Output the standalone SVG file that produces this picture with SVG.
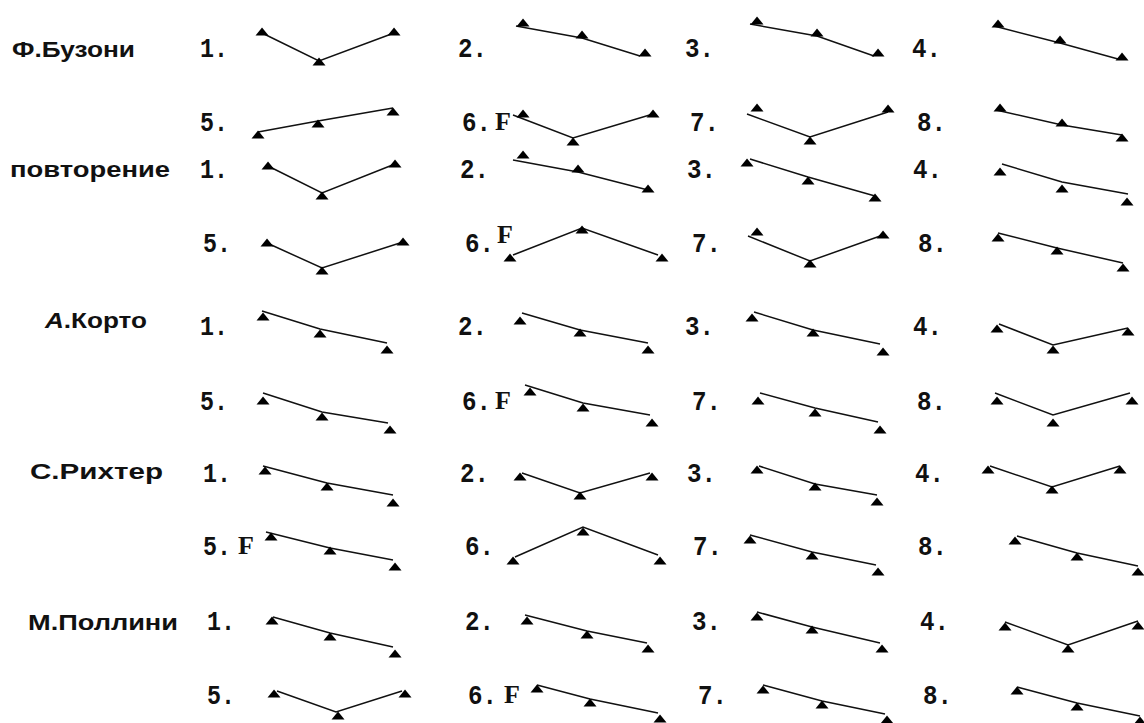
<svg xmlns="http://www.w3.org/2000/svg" xmlns:xlink="http://www.w3.org/1999/xlink" width="1144" height="723" viewBox="0 0 1144 723">
<style>
.name{font-family:"Liberation Sans",Arial,sans-serif;font-weight:bold;font-size:22px;fill:#111}
.num{font-family:"Liberation Mono","Courier New",monospace;font-weight:bold;font-size:28px;fill:#111}
.f{font-family:"Liberation Serif","Times New Roman",serif;font-weight:bold;font-size:26px;fill:#111}
.c{fill:none;stroke:#111;stroke-width:1.5}
.tri{fill:#000}
</style>
<defs>
<path id="t" class="tri" d="M-6.5,3.5 L6.5,3.5 L0,-4.5 Z"/>
</defs>
<rect width="1144" height="723" fill="#fff"/>
<g id="names">
<text class="name" x="12" y="57" textLength="123" lengthAdjust="spacingAndGlyphs">Ф.Бузони</text>
<text class="name" x="10" y="177" textLength="160" lengthAdjust="spacingAndGlyphs" font-size="25">повторение</text>
<text class="name" x="45" y="328" textLength="102" lengthAdjust="spacingAndGlyphs"><tspan font-style="italic">А</tspan>.Корто</text>
<text class="name" x="30" y="479" textLength="133" lengthAdjust="spacingAndGlyphs">С.Рихтер</text>
<text class="name" x="28" y="630" textLength="150" lengthAdjust="spacingAndGlyphs">М.Поллини</text>
</g>
<g id="labels">
<text class="num" x="200" y="57" textLength="28" lengthAdjust="spacingAndGlyphs">1.</text><text class="num" x="458" y="57" textLength="29" lengthAdjust="spacingAndGlyphs">2.</text><text class="num" x="685" y="57" textLength="29" lengthAdjust="spacingAndGlyphs">3.</text><text class="num" x="912" y="57" textLength="29" lengthAdjust="spacingAndGlyphs">4.</text>
<text class="num" x="200" y="131" textLength="28" lengthAdjust="spacingAndGlyphs">5.</text><text class="num" x="462" y="131" textLength="29" lengthAdjust="spacingAndGlyphs">6.</text><text class="f" x="495" y="130">F</text><text class="num" x="690" y="131" textLength="29" lengthAdjust="spacingAndGlyphs">7.</text><text class="num" x="917" y="131" textLength="29" lengthAdjust="spacingAndGlyphs">8.</text>
<text class="num" x="200" y="178" textLength="28" lengthAdjust="spacingAndGlyphs">1.</text><text class="num" x="460" y="178" textLength="29" lengthAdjust="spacingAndGlyphs">2.</text><text class="num" x="687" y="178" textLength="29" lengthAdjust="spacingAndGlyphs">3.</text><text class="num" x="913" y="178" textLength="29" lengthAdjust="spacingAndGlyphs">4.</text>
<text class="num" x="203" y="252" textLength="28" lengthAdjust="spacingAndGlyphs">5.</text><text class="num" x="465" y="252" textLength="29" lengthAdjust="spacingAndGlyphs">6.</text><text class="f" x="497" y="243">F</text><text class="num" x="692" y="252" textLength="29" lengthAdjust="spacingAndGlyphs">7.</text><text class="num" x="918" y="252" textLength="29" lengthAdjust="spacingAndGlyphs">8.</text>
<text class="num" x="200" y="335" textLength="28" lengthAdjust="spacingAndGlyphs">1.</text><text class="num" x="458" y="335" textLength="29" lengthAdjust="spacingAndGlyphs">2.</text><text class="num" x="685" y="335" textLength="29" lengthAdjust="spacingAndGlyphs">3.</text><text class="num" x="913" y="335" textLength="29" lengthAdjust="spacingAndGlyphs">4.</text>
<text class="num" x="200" y="410" textLength="28" lengthAdjust="spacingAndGlyphs">5.</text><text class="num" x="462" y="410" textLength="29" lengthAdjust="spacingAndGlyphs">6.</text><text class="f" x="495" y="409">F</text><text class="num" x="692" y="410" textLength="29" lengthAdjust="spacingAndGlyphs">7.</text><text class="num" x="917" y="410" textLength="29" lengthAdjust="spacingAndGlyphs">8.</text>
<text class="num" x="203" y="482" textLength="28" lengthAdjust="spacingAndGlyphs">1.</text><text class="num" x="460" y="482" textLength="29" lengthAdjust="spacingAndGlyphs">2.</text><text class="num" x="687" y="482" textLength="29" lengthAdjust="spacingAndGlyphs">3.</text><text class="num" x="915" y="482" textLength="29" lengthAdjust="spacingAndGlyphs">4.</text>
<text class="num" x="203" y="555" textLength="28" lengthAdjust="spacingAndGlyphs">5.</text><text class="f" x="238" y="554">F</text><text class="num" x="465" y="555" textLength="29" lengthAdjust="spacingAndGlyphs">6.</text><text class="num" x="693" y="555" textLength="29" lengthAdjust="spacingAndGlyphs">7.</text><text class="num" x="918" y="555" textLength="29" lengthAdjust="spacingAndGlyphs">8.</text>
<text class="num" x="207" y="630" textLength="28" lengthAdjust="spacingAndGlyphs">1.</text><text class="num" x="465" y="630" textLength="29" lengthAdjust="spacingAndGlyphs">2.</text><text class="num" x="692" y="630" textLength="29" lengthAdjust="spacingAndGlyphs">3.</text><text class="num" x="920" y="630" textLength="29" lengthAdjust="spacingAndGlyphs">4.</text>
<text class="num" x="207" y="704" textLength="28" lengthAdjust="spacingAndGlyphs">5.</text><text class="num" x="468" y="704" textLength="29" lengthAdjust="spacingAndGlyphs">6.</text><text class="f" x="504" y="703">F</text><text class="num" x="698" y="704" textLength="29" lengthAdjust="spacingAndGlyphs">7.</text><text class="num" x="923" y="704" textLength="29" lengthAdjust="spacingAndGlyphs">8.</text>
</g>
<g id="connectors">
<polyline class="c" points="262,33 319,61 394,33"/>
<polyline class="c" points="516,26 582,38 640,56"/>
<polyline class="c" points="750,24 817,36 874,56"/>
<polyline class="c" points="994,26 1060,43 1118,59"/>
<polyline class="c" points="258,132 318,121 393,108"/>
<polyline class="c" points="513,115 573,138 653,114"/>
<polyline class="c" points="747,114 810,137 888,112"/>
<polyline class="c" points="996,110 1062,125 1122,135"/>
<polyline class="c" points="268,166 322,193 395,164"/>
<polyline class="c" points="513,160 578,172 648,190"/>
<polyline class="c" points="750,159 808,177 875,196"/>
<polyline class="c" points="1002,164 1062,182 1128,194"/>
<polyline class="c" points="267,243 322,268 403,242"/>
<polyline class="c" points="513,255 582,228 658,255"/>
<polyline class="c" points="748,236 810,261 883,235"/>
<polyline class="c" points="998,233 1057,248 1123,263"/>
<polyline class="c" points="262,311 320,329 387,343"/>
<polyline class="c" points="522,313 580,330 648,343"/>
<polyline class="c" points="754,312 813,330 880,344"/>
<polyline class="c" points="999,324 1053,345 1128,328"/>
<polyline class="c" points="263,393 322,412 388,423"/>
<polyline class="c" points="525,385 583,403 650,415"/>
<polyline class="c" points="760,393 815,408 878,422"/>
<polyline class="c" points="995,393 1053,415 1130,393"/>
<polyline class="c" points="263,466 327,483 393,495"/>
<polyline class="c" points="522,473 580,493 650,473"/>
<polyline class="c" points="759,466 815,484 877,495"/>
<polyline class="c" points="990,466 1052,487 1120,466"/>
<polyline class="c" points="266,532 330,548 393,560"/>
<polyline class="c" points="515,557 583,527 658,555"/>
<polyline class="c" points="750,535 812,552 876,565"/>
<polyline class="c" points="1017,536 1077,553 1138,566"/>
<polyline class="c" points="273,617 330,633 393,647"/>
<polyline class="c" points="525,615 587,631 647,643"/>
<polyline class="c" points="757,612 812,627 880,643"/>
<polyline class="c" points="1005,622 1068,645 1138,621"/>
<polyline class="c" points="277,691 336,712 402,691"/>
<polyline class="c" points="537,685 590,699 658,713"/>
<polyline class="c" points="763,685 822,701 885,714"/>
<polyline class="c" points="1017,687 1077,703 1140,716"/>
</g>
<g id="r1">
<use href="#t" x="262" y="32"/><use href="#t" x="319" y="62"/><use href="#t" x="394" y="32"/>
<use href="#t" x="523" y="23"/><use href="#t" x="582" y="35"/><use href="#t" x="645" y="53"/>
<use href="#t" x="757" y="21"/><use href="#t" x="817" y="33"/><use href="#t" x="878" y="53"/>
<use href="#t" x="998" y="24"/><use href="#t" x="1060" y="40"/><use href="#t" x="1122" y="57"/>
</g>
<g id="r2">
<use href="#t" x="258" y="135"/><use href="#t" x="318" y="124"/><use href="#t" x="393" y="112"/>
<use href="#t" x="523" y="114"/><use href="#t" x="573" y="142"/><use href="#t" x="653" y="114"/>
<use href="#t" x="757" y="108"/><use href="#t" x="810" y="141"/><use href="#t" x="888" y="109"/>
<use href="#t" x="1000" y="108"/><use href="#t" x="1062" y="123"/><use href="#t" x="1122" y="138"/>
</g>
<g id="r3">
<use href="#t" x="268" y="166"/><use href="#t" x="322" y="196"/><use href="#t" x="395" y="164"/>
<use href="#t" x="523" y="155"/><use href="#t" x="578" y="169"/><use href="#t" x="648" y="189"/>
<use href="#t" x="747" y="163"/><use href="#t" x="808" y="181"/><use href="#t" x="875" y="198"/>
<use href="#t" x="1000" y="172"/><use href="#t" x="1062" y="189"/><use href="#t" x="1127" y="202"/>
</g>
<g id="r4">
<use href="#t" x="267" y="243"/><use href="#t" x="322" y="271"/><use href="#t" x="403" y="242"/>
<use href="#t" x="510" y="258"/><use href="#t" x="582" y="230"/><use href="#t" x="662" y="258"/>
<use href="#t" x="757" y="232"/><use href="#t" x="810" y="264"/><use href="#t" x="883" y="235"/>
<use href="#t" x="998" y="238"/><use href="#t" x="1057" y="251"/><use href="#t" x="1123" y="268"/>
</g>
<g id="r5">
<use href="#t" x="263" y="317"/><use href="#t" x="320" y="334"/><use href="#t" x="387" y="350"/>
<use href="#t" x="520" y="321"/><use href="#t" x="580" y="333"/><use href="#t" x="648" y="350"/>
<use href="#t" x="752" y="318"/><use href="#t" x="813" y="333"/><use href="#t" x="883" y="352"/>
<use href="#t" x="997" y="329"/><use href="#t" x="1053" y="350"/><use href="#t" x="1128" y="332"/>
</g>
<g id="r6">
<use href="#t" x="263" y="401"/><use href="#t" x="322" y="417"/><use href="#t" x="390" y="430"/>
<use href="#t" x="530" y="392"/><use href="#t" x="583" y="408"/><use href="#t" x="652" y="423"/>
<use href="#t" x="758" y="401"/><use href="#t" x="815" y="413"/><use href="#t" x="880" y="430"/>
<use href="#t" x="997" y="401"/><use href="#t" x="1053" y="423"/><use href="#t" x="1132" y="401"/>
</g>
<g id="r7">
<use href="#t" x="265" y="471"/><use href="#t" x="327" y="487"/><use href="#t" x="393" y="503"/>
<use href="#t" x="520" y="477"/><use href="#t" x="580" y="496"/><use href="#t" x="652" y="477"/>
<use href="#t" x="757" y="470"/><use href="#t" x="815" y="487"/><use href="#t" x="877" y="502"/>
<use href="#t" x="988" y="470"/><use href="#t" x="1052" y="490"/><use href="#t" x="1120" y="470"/>
</g>
<g id="r8">
<use href="#t" x="271" y="537"/><use href="#t" x="330" y="551"/><use href="#t" x="395" y="567"/>
<use href="#t" x="513" y="561"/><use href="#t" x="583" y="532"/><use href="#t" x="660" y="561"/>
<use href="#t" x="750" y="540"/><use href="#t" x="812" y="556"/><use href="#t" x="878" y="572"/>
<use href="#t" x="1015" y="541"/><use href="#t" x="1077" y="557"/><use href="#t" x="1138" y="572"/>
</g>
<g id="r9">
<use href="#t" x="272" y="621"/><use href="#t" x="330" y="637"/><use href="#t" x="395" y="654"/>
<use href="#t" x="527" y="621"/><use href="#t" x="587" y="635"/><use href="#t" x="648" y="649"/>
<use href="#t" x="757" y="617"/><use href="#t" x="812" y="630"/><use href="#t" x="882" y="649"/>
<use href="#t" x="1005" y="627"/><use href="#t" x="1068" y="649"/><use href="#t" x="1138" y="626"/>
</g>
<g id="r10">
<use href="#t" x="274" y="694"/><use href="#t" x="338" y="716"/><use href="#t" x="405" y="694"/>
<use href="#t" x="537" y="689"/><use href="#t" x="590" y="703"/><use href="#t" x="660" y="719"/>
<use href="#t" x="763" y="690"/><use href="#t" x="822" y="705"/><use href="#t" x="887" y="720"/>
<use href="#t" x="1017" y="691"/><use href="#t" x="1077" y="707"/><use href="#t" x="1140" y="721"/>
</g>
</svg>
